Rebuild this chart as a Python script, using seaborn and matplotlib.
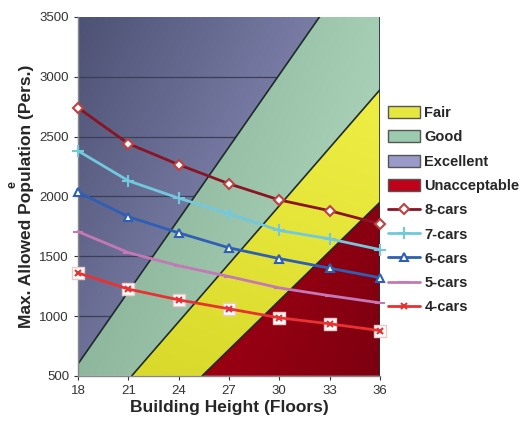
import numpy as np
import pandas as pd
import seaborn as sns
import matplotlib.pyplot as plt
from matplotlib.patches import Polygon, Patch
from matplotlib.lines import Line2D
from matplotlib.colors import to_rgb

# chart data
floors = [18, 21, 24, 27, 30, 33, 36]
cars_8 = [2740, 2440, 2265, 2105, 1970, 1880, 1770]
cars_7 = [2380, 2130, 1985, 1855, 1715, 1645, 1555]
cars_6 = [2035, 1830, 1695, 1570, 1480, 1400, 1320]
cars_5 = [1705, 1530, 1420, 1330, 1235, 1170, 1110]
cars_4 = [1360, 1225, 1135, 1060, 985, 935, 878]

# zone boundaries (x, y) end points
excellent_good = [(18, 600), (32.4, 3500)]
good_fair = [(21.2, 500), (36, 2890)]
fair_unacc = [(25.4, 500), (36, 1950)]

df = pd.DataFrame({
    'floors': floors * 5,
    'pop': cars_8 + cars_7 + cars_6 + cars_5 + cars_4,
    'series': sum([[s] * len(floors) for s in ['8-cars', '7-cars', '6-cars', '5-cars', '4-cars']], []),
})

sns.set_style('white')
plt.rcParams['font.family'] = ['Liberation Sans', 'DejaVu Sans']

fig = plt.figure(figsize=(5.24, 4.32), dpi=100)
ax = fig.add_axes([0.149, 0.130, 0.576, 0.831])
ax.set_xlim(18, 36)
ax.set_ylim(500, 3500)


def gradient_fill(poly_pts, c1, c2, direction, z):
    n = 200
    xs = np.linspace(0, 1, n)
    ys = np.linspace(0, 1, n)
    X, Y = np.meshgrid(xs, ys)
    t = direction[0] * X + direction[1] * Y
    t = (t - t.min()) / (t.max() - t.min())
    a, b = np.array(to_rgb(c1)), np.array(to_rgb(c2))
    img = a[None, None, :] * (1 - t[..., None]) + b[None, None, :] * t[..., None]
    im = ax.imshow(img, extent=[18, 36, 500, 3500], origin='lower', aspect='auto', zorder=z)
    patch = Polygon(poly_pts, closed=True, facecolor='none', edgecolor='none', zorder=z)
    ax.add_patch(patch)
    im.set_clip_path(patch)


(x1a, y1a), (x1b, y1b) = excellent_good
(x2a, y2a), (x2b, y2b) = good_fair
(x3a, y3a), (x3b, y3b) = fair_unacc

excellent_poly = [(18, y1a), (18, 3500), (x1b, 3500)]
good_poly = [(18, 500), (18, y1a), (x1b, 3500), (36, 3500), (36, y2b), (x2a, 500)]
fair_poly = [(x2a, 500), (36, y2b), (36, y3b), (x3a, 500)]
unacc_poly = [(x3a, 500), (36, y3b), (36, 500)]

gradient_fill(excellent_poly, '#4d5274', '#a6a6d6', (1.0, -0.6), 0)
for yv in [1000, 1500, 2000, 2500, 3000]:
    ax.axhline(yv, color='#3a3e58', lw=0.9, zorder=0.5)
gradient_fill(good_poly, '#7fa88f', '#b4dcc3', (1.0, -0.4), 1)
gradient_fill(fair_poly, '#d8d82a', '#f2f24a', (0.3, 1.0), 1)
gradient_fill(unacc_poly, '#cc0018', '#7c0010', (1.0, -0.5), 1)

for (xa, ya), (xb, yb) in [excellent_good, good_fair, fair_unacc]:
    ax.plot([xa, xb], [ya, yb], color='#1e2a2a', lw=1.2, zorder=2)
ax.plot([36, 36], [500, 3500], color='#1e2a2a', lw=1.2, zorder=2)

styles = {
    '8-cars': dict(color='#8a1424', marker='D', mfc='white', mec='#c04040', ms=5),
    '7-cars': dict(color='#72c8dc', marker='+', mfc='#72c8dc', mec='#72c8dc', ms=8),
    '6-cars': dict(color='#2f5fb4', marker='^', mfc='white', mec='#2f5fb4', ms=6),
    '5-cars': dict(color='#c478b6', marker='_', mfc='#c478b6', mec='#c478b6', ms=7),
    '4-cars': dict(color='#e83232', marker='x', mfc='#e83232', mec='#e83232', ms=5),
}

for name, st in styles.items():
    sub = df[df['series'] == name]
    if name == '4-cars':
        ax.scatter(sub['floors'], sub['pop'], marker='s', s=80, color='white',
                   edgecolor='#f0c8c8', zorder=3.5, clip_on=False)
    sns.lineplot(data=sub, x='floors', y='pop', ax=ax, color=st['color'], lw=2,
                 marker=st['marker'], markerfacecolor=st['mfc'], markeredgecolor=st['mec'],
                 markeredgewidth=1.5, markersize=st['ms'], zorder=4, legend=False,
                 clip_on=False)

ax.set_xticks(floors)
ax.set_yticks(range(500, 3501, 500))
ax.tick_params(axis='both', labelsize=9.5, colors='#333333', length=3, direction='out',
               bottom=True, left=True)
ax.set_xlabel('Building Height (Floors)', fontsize=12.5, fontweight='bold', labelpad=2)
ax.set_ylabel('Max. Allowed Population (Pers.)', fontsize=12.5, fontweight='bold', labelpad=4)
for s in ['top', 'right']:
    ax.spines[s].set_visible(False)
for s in ['left', 'bottom']:
    ax.spines[s].set_color('#888888')
    ax.spines[s].set_linewidth(1)

fig.text(0.012, 0.572, 'e', rotation=90, fontsize=9, fontweight='bold', va='center')

handles = [
    Patch(facecolor='#e6e640', edgecolor='#555555', label='Fair'),
    Patch(facecolor='#9ccaae', edgecolor='#555555', label='Good'),
    Patch(facecolor='#9a9ac8', edgecolor='#555555', label='Excellent'),
    Patch(facecolor='#c00018', edgecolor='#555555', label='Unacceptable'),
]
for name, st in styles.items():
    handles.append(Line2D([], [], color=st['color'], lw=2, marker=st['marker'],
                          markerfacecolor=st['mfc'], markeredgecolor=st['mec'],
                          markeredgewidth=1.5, markersize=st['ms'], label=name))

leg = fig.legend(handles=handles, loc='upper left', bbox_to_anchor=(0.729, 0.768),
                 frameon=False, prop={'size': 10.5, 'weight': 'bold'},
                 handlelength=2.2, handleheight=0.9, labelspacing=0.7,
                 handletextpad=0.3, borderaxespad=0)

fig.savefig('out.png', dpi=100)
